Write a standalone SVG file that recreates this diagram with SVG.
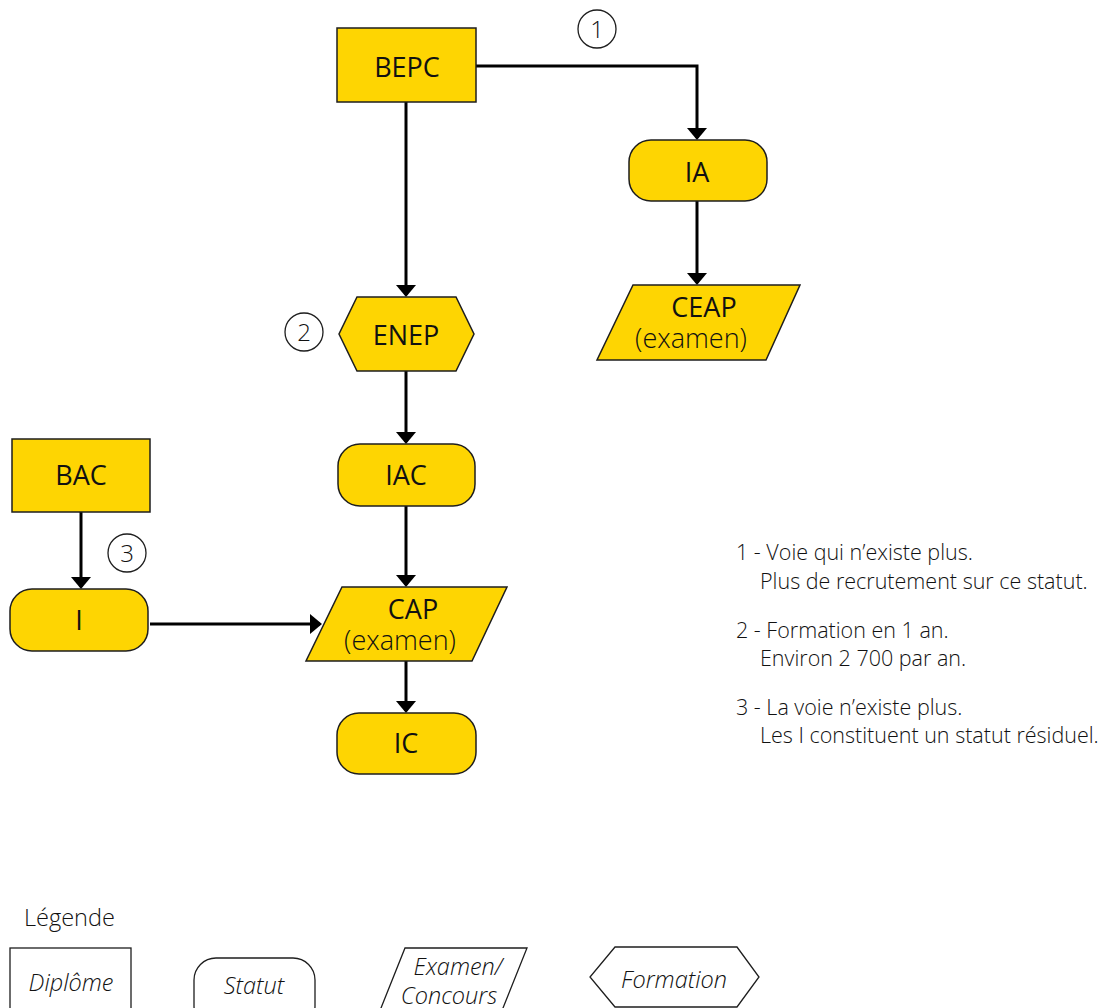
<svg xmlns="http://www.w3.org/2000/svg" width="1106" height="1008" viewBox="0 0 1106 1008">
  <style>
    .node { fill: #FED502; stroke: #1e1e1e; stroke-width: 1.5; }
    .lbl { font-family: "Open Sans", "Liberation Sans", sans-serif; font-size: 27px; fill: #111; text-anchor: middle; }
    .sub { font-weight: 300; }
    .conn { fill: none; stroke: #000; stroke-width: 3; }
    .num { fill: #fff; stroke: #1e1e1e; stroke-width: 1.3; }
    .numt { font-family: "Open Sans", "Liberation Sans", sans-serif; font-size: 24px; font-weight: 300; fill: #111; text-anchor: middle; }
    .note { font-family: "Open Sans", "Liberation Sans", sans-serif; font-size: 21.5px; font-weight: 300; fill: #111; }
    .title { font-family: "Open Sans", "Liberation Sans", sans-serif; font-size: 23.5px; font-weight: 300; fill: #111; }
    .leg { fill: #fff; stroke: #1e1e1e; stroke-width: 1.3; }
    .legt { font-family: "Open Sans", "Liberation Sans", sans-serif; font-size: 23.5px; font-weight: 300; font-style: italic; fill: #111; text-anchor: middle; }
  </style>
  <defs>
    <marker id="arrow" markerUnits="userSpaceOnUse" markerWidth="22" markerHeight="22" viewBox="0 -11 12 22" refX="10" refY="0" orient="auto">
      <path d="M0,-10 L12,0 L0,10 Z" fill="#000"/>
    </marker>
  </defs>

  <!-- connectors -->
  <g id="connectors">
    <polyline class="conn" points="476,66 697,66 697,138" marker-end="url(#arrow)"/>
    <line class="conn" x1="697" y1="201" x2="697" y2="283" marker-end="url(#arrow)"/>
    <line class="conn" x1="406" y1="102" x2="406" y2="295" marker-end="url(#arrow)"/>
    <line class="conn" x1="406" y1="371" x2="406" y2="442" marker-end="url(#arrow)"/>
    <line class="conn" x1="406" y1="506" x2="406" y2="585" marker-end="url(#arrow)"/>
    <line class="conn" x1="406" y1="661" x2="406" y2="711" marker-end="url(#arrow)"/>
    <line class="conn" x1="81" y1="512" x2="81" y2="587" marker-end="url(#arrow)"/>
    <line class="conn" x1="150" y1="624" x2="320" y2="624" marker-end="url(#arrow)"/>
  </g>

  <!-- diplomas -->
  <g id="bepc">
    <rect class="node" x="337" y="28" width="139" height="74"/>
    <text class="lbl" x="407" y="77">BEPC</text>
  </g>
  <g id="bac">
    <rect class="node" x="12" y="439" width="138" height="73"/>
    <text class="lbl" x="81" y="485">BAC</text>
  </g>

  <!-- statuses -->
  <g id="ia">
    <rect class="node" x="629" y="140" width="138" height="61" rx="22"/>
    <text class="lbl" x="697" y="182">IA</text>
  </g>
  <g id="iac">
    <rect class="node" x="338" y="444" width="137" height="62" rx="22"/>
    <text class="lbl" x="406" y="485">IAC</text>
  </g>
  <g id="i">
    <rect class="node" x="10" y="589" width="138" height="62" rx="22"/>
    <text class="lbl" x="79" y="630">I</text>
  </g>
  <g id="ic">
    <rect class="node" x="337" y="713" width="139" height="61" rx="22"/>
    <text class="lbl" x="406" y="753">IC</text>
  </g>

  <!-- exams -->
  <g id="ceap">
    <polygon class="node" points="633,285 800,285 766,360 597,360"/>
    <text class="lbl" x="704" y="317">CEAP</text>
    <text class="lbl sub" x="691" y="348">(examen)</text>
  </g>
  <g id="cap">
    <polygon class="node" points="342,587 507,587 472,661 306,661"/>
    <text class="lbl" x="413" y="619">CAP</text>
    <text class="lbl sub" x="400" y="650">(examen)</text>
  </g>

  <!-- training -->
  <g id="enep">
    <polygon class="node" points="357,297 456,297 474,334 456,371 357,371 339,334"/>
    <text class="lbl" x="406" y="345">ENEP</text>
  </g>

  <!-- note markers -->
  <g id="mark1">
    <circle class="num" cx="597" cy="29" r="19"/>
    <text class="numt" x="597" y="38">1</text>
  </g>
  <g id="mark2">
    <circle class="num" cx="304" cy="332" r="19"/>
    <text class="numt" x="304" y="341">2</text>
  </g>
  <g id="mark3">
    <circle class="num" cx="127" cy="553" r="19"/>
    <text class="numt" x="127" y="562">3</text>
  </g>

  <!-- notes -->
  <g id="notes">
    <text class="note" x="736" y="560">1 - Voie qui n’existe plus.</text>
    <text class="note" x="760" y="589">Plus de recrutement sur ce statut.</text>
    <text class="note" x="736" y="638">2 - Formation en 1 an.</text>
    <text class="note" x="760" y="666">Environ 2 700 par an.</text>
    <text class="note" x="736" y="715">3 - La voie n’existe plus.</text>
    <text class="note" x="760" y="743">Les I constituent un statut résiduel.</text>
  </g>

  <!-- legend -->
  <g id="legend">
    <text class="title" x="24" y="926">Légende</text>
    <g id="leg-diplome">
      <rect class="leg" x="10" y="948" width="121" height="80"/>
      <text class="legt" x="71" y="991">Diplôme</text>
    </g>
    <g id="leg-statut">
      <rect class="leg" x="194" y="958" width="121" height="70" rx="22"/>
      <text class="legt" x="254" y="994">Statut</text>
    </g>
    <g id="leg-examen">
      <polygon class="leg" points="405,948 527,948 495,1028 373,1028"/>
      <text class="legt" x="458" y="975">Examen/</text>
      <text class="legt" x="449" y="1004">Concours</text>
    </g>
    <g id="leg-formation">
      <polygon class="leg" points="615,947 737,947 759,977 737,1007 615,1007 590,977"/>
      <text class="legt" x="674" y="988">Formation</text>
    </g>
  </g>
</svg>
